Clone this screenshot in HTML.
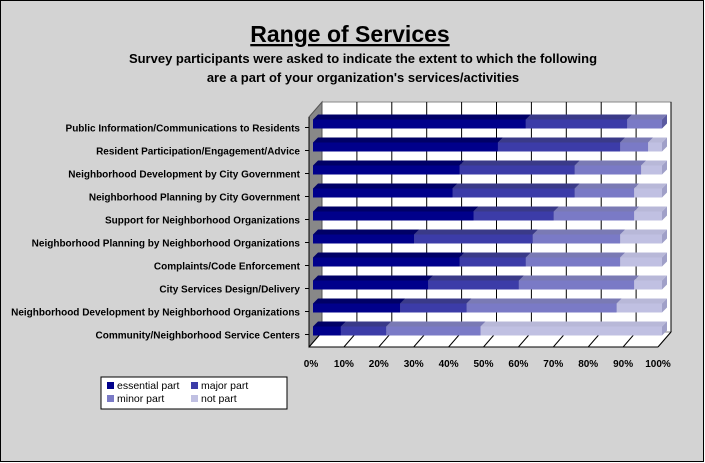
<!DOCTYPE html>
<html><head><meta charset="utf-8"><style>
body{margin:0;background:#fff}
svg{display:block;font-family:"Liberation Sans",Arial,sans-serif;font-weight:bold}
</style></head><body>
<svg width="705" height="463" viewBox="0 0 705 463">
<rect x="0.5" y="0.5" width="703" height="461" fill="#d3d3d3" stroke="#000"/>
<text x="350" y="42" font-size="23" text-anchor="middle" text-decoration="underline">Range of Services</text>
<text x="363" y="63" font-size="13" text-anchor="middle">Survey participants were asked to indicate the extent to which the following</text>
<text x="363" y="82" font-size="13" text-anchor="middle">are a part of your organization's services/activities</text>
<rect x="322" y="102" width="349" height="230" fill="#fff" stroke="#888"/>
<polygon points="309,117 322,102 322,332 309,347" fill="#888" stroke="#555"/>
<polygon points="309,347 322,332 671,332 658,347" fill="#fff" stroke="#888"/>
<g id="grid" stroke="#000" stroke-width="1"></g>
<g id="bars"></g>
<g id="labels" font-size="10" text-anchor="end"></g>
<g id="xl" font-size="10" text-anchor="middle"></g>
<line x1="309" y1="117" x2="309" y2="347" stroke="#000"/>
<line x1="309" y1="347" x2="658" y2="347" stroke="#000"/>
<rect x="101" y="377" width="186" height="32" fill="#fff" stroke="#000"/>
<rect x="107" y="382" width="7" height="7" fill="#00008b"/>
<text x="117" y="389" font-size="10.5" font-weight="normal">essential part</text>
<rect x="191" y="382" width="7" height="7" fill="#3c3ca8"/>
<text x="201" y="389" font-size="10.5" font-weight="normal">major part</text>
<rect x="107" y="395" width="7" height="7" fill="#7a7ac6"/>
<text x="117" y="402" font-size="10.5" font-weight="normal">minor part</text>
<rect x="191" y="395" width="7" height="7" fill="#c0c0e2"/>
<text x="201" y="402" font-size="10.5" font-weight="normal">not part</text>
</svg>
<script>
const ns="http://www.w3.org/2000/svg";
function el(p,t,a,txt){const e=document.createElementNS(ns,t);for(const k in a)e.setAttribute(k,a[k]);if(txt!=null)e.textContent=txt;document.getElementById(p).appendChild(e);}
for(let k=0;k<=10;k++){const fx=309+34.9*k,bx=322+34.9*k;
 if(k>0)el("grid","line",{x1:bx,y1:102,x2:bx,y2:332});
 el("grid","line",{x1:fx,y1:347,x2:bx,y2:332});
 el("xl","text",{x:fx+(k==0?2:0),y:367},k*10+"%");}
const labels=["Public Information/Communications to Residents","Resident Participation/Engagement/Advice","Neighborhood Development by City Government","Neighborhood Planning by City Government","Support for Neighborhood Organizations","Neighborhood Planning by Neighborhood Organizations","Complaints/Code Enforcement","City Services Design/Delivery","Neighborhood Development by Neighborhood Organizations","Community/Neighborhood Service Centers"];
const vals=[[61,90,100],[53,88,96],[42,75,94],[40,75,92],[46,69,92],[29,63,88],[42,61,88],[33,59,92],[25,44,87],[8,21,48]];
const cols=[["#00008b","#000066","#00005a"],["#3c3ca8","#3a3a88","#26267a"],["#7a7ac6","#7a7ab4","#5a5aa0"],["#c0c0e2","#b8b8d8","#a0a0c8"]];
for(let i=0;i<10;i++){
 const y=119.5+23*i, h=9, d=5;
 el("labels","text",{x:300,y:y+12},labels[i]);
 el("grid","line",{x1:305,y1:y+8,x2:309,y2:y+8});
 const b=[0,...vals[i],100];
 for(let s=0;s<4;s++){
  if(b[s+1]<=b[s])continue;
  const x0=313+3.49*b[s],x1=313+3.49*b[s+1];
  const c=cols[s];
  el("bars","polygon",{points:`${x0},${y} ${x0+d},${y-d} ${x1+d},${y-d} ${x1},${y}`,fill:c[1]});
  el("bars","rect",{x:x0,y:y,width:x1-x0,height:h,fill:c[0]});
  el("bars","polygon",{points:`${x1},${y} ${x1+d},${y-d} ${x1+d},${y+h-d} ${x1},${y+h}`,fill:c[2]});
 }
}
</script>
</body></html>
